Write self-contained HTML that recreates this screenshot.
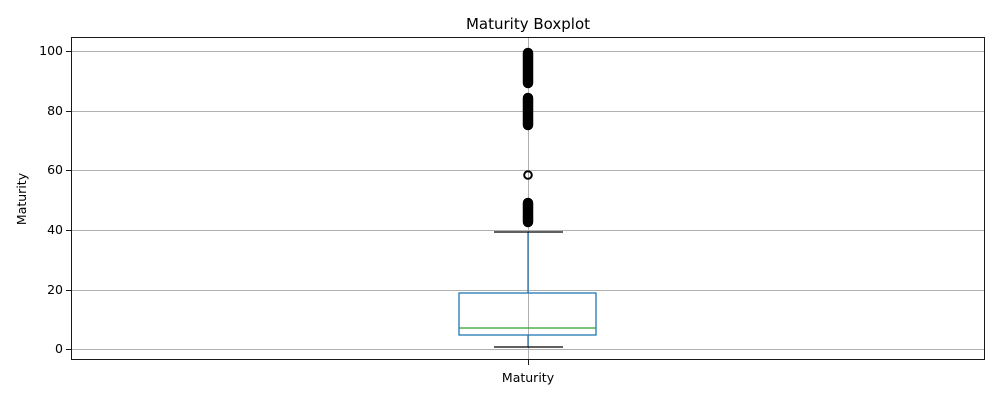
<!DOCTYPE html>
<html><head><style>body{margin:0;background:#fff}svg{display:block}</style></head><body>
<svg width="1000" height="400" xmlns="http://www.w3.org/2000/svg" font-family="DejaVu Sans, Liberation Sans, sans-serif">
<rect width="1000" height="400" fill="#fff"/>
<g stroke="#b0b0b0" stroke-width="1">
<line x1="71" x2="985" y1="51.5" y2="51.5"/><line x1="71" x2="985" y1="111.5" y2="111.5"/>
<line x1="71" x2="985" y1="170.5" y2="170.5"/><line x1="71" x2="985" y1="230.5" y2="230.5"/>
<line x1="71" x2="985" y1="290.5" y2="290.5"/><line x1="71" x2="985" y1="349.5" y2="349.5"/>
<line x1="528.5" x2="528.5" y1="37" y2="360"/>
</g>
<rect x="71.5" y="37.5" width="913" height="322" fill="none" stroke="#000" stroke-width="0.9"/>
<g stroke="#000" stroke-width="0.9">
<line x1="66" x2="71" y1="51.5" y2="51.5"/><line x1="66" x2="71" y1="111.5" y2="111.5"/>
<line x1="66" x2="71" y1="170.5" y2="170.5"/><line x1="66" x2="71" y1="230.5" y2="230.5"/>
<line x1="66" x2="71" y1="290.5" y2="290.5"/><line x1="66" x2="71" y1="349.5" y2="349.5"/>
<line x1="528.5" x2="528.5" y1="360" y2="365"/>
</g>
<g font-size="12.5" text-anchor="end" fill="#000">
<text x="63" y="55">100</text><text x="63" y="115">80</text><text x="63" y="174">60</text>
<text x="63" y="234">40</text><text x="63" y="294">20</text><text x="63" y="353">0</text>
</g>
<text x="528" y="382" font-size="12.5" text-anchor="middle">Maturity</text>
<text x="26" y="199" font-size="12.5" text-anchor="middle" transform="rotate(-90 26 199)">Maturity</text>
<text x="528" y="29" font-size="15" text-anchor="middle">Maturity Boxplot</text>
<g stroke="#1f77b4" stroke-width="1.3" fill="none">
<rect x="459" y="293" width="137" height="42"/>
<line x1="528" x2="528" y1="293" y2="232"/>
<line x1="528" x2="528" y1="335" y2="347"/>
</g>
<line x1="459" x2="596" y1="328" y2="328" stroke="#2ca02c" stroke-width="1.3"/>
<g stroke="#000" stroke-width="1.3">
<line x1="494" x2="563" y1="232" y2="232"/><line x1="494" x2="563" y1="347" y2="347"/>
</g>
<g stroke="#000" stroke-width="10.5" stroke-linecap="round">
<line x1="528" x2="528" y1="53" y2="83"/>
<line x1="528" x2="528" y1="98" y2="125"/>
<line x1="528" x2="528" y1="203" y2="222"/>
</g>
<circle cx="528" cy="175" r="3.8" fill="none" stroke="#000" stroke-width="2"/>
</svg>
</body></html>
